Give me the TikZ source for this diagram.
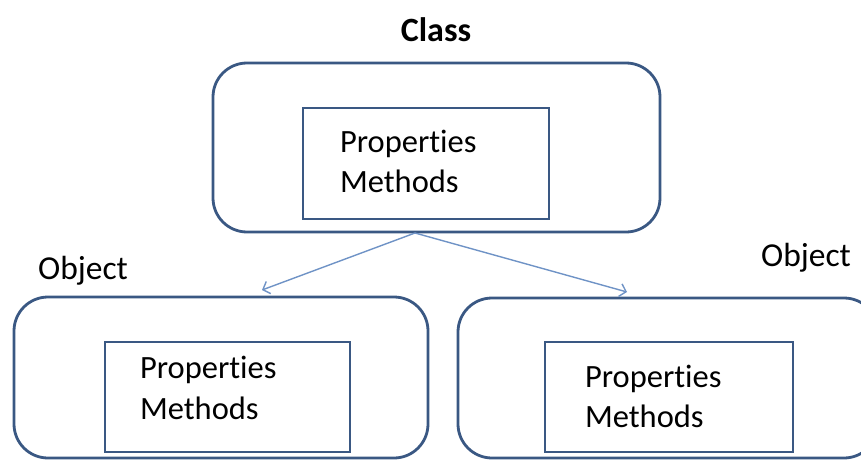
\documentclass[tikz,border=0pt]{standalone}
\usepackage{fontspec}
\setmainfont{Carlito}[Ligatures=NoCommon]
\usetikzlibrary{arrows.meta}
\definecolor{boxblue}{HTML}{3A5883}
\definecolor{arrowblue}{HTML}{6F93C6}
\tikzset{
  outerbox/.style={draw=boxblue, line width=2.8pt, rounded corners=34pt},
  innerbox/.style={draw=boxblue, line width=2.8pt, align=left, text height=20pt, font=\fontsize{32.5}{40}\selectfont},
  title/.style={font=\fontsize{33.5}{36}\selectfont},
  arr/.style={draw=arrowblue, line width=1.4pt, -{Straight Barb[length=6pt,width=13pt]}}
}
\begin{document}
\begin{tikzpicture}[x=1pt,y=-1pt]
  \useasboundingbox (0,0) rectangle (861,460);
  % class
  \node[title, font=\fontsize{34}{36}\selectfont\bfseries] (clsname) at (436,30) {Class};
  \node[outerbox, minimum width=447pt, minimum height=169pt] (cls) at (436.5,147.5) {};
  \node[innerbox, text width=172pt, inner xsep=37pt, text depth=43pt, minimum height=111pt] (clsin) at (426,163.5) {Properties\\Methods};
  % objects
  \node[title] (objLname) at (83,271) {Object};
  \node[title] (objRname) at (806,258) {Object};
  \node[outerbox, minimum width=414pt, minimum height=161pt] (objL) at (221,377.5) {};
  \node[outerbox, minimum width=420pt, minimum height=160pt] (objR) at (668,378) {};
  \node[innerbox, text width=175pt, inner xsep=35pt, text depth=58pt, minimum height=110pt] (objLin) at (227.5,397) {Properties\\[1pt]Methods};
  \node[innerbox, text width=168pt, inner xsep=40pt, text depth=40pt, minimum height=110pt] (objRin) at (669,397) {Properties\\Methods};
  % arrows
  \coordinate (fork) at (415,233);
  \coordinate (tipL) at (262,290);
  \coordinate (tipR) at (627,292);
  \draw[arr] (fork) -- (tipL);
  \draw[arr] (fork) -- (tipR);
\end{tikzpicture}
\end{document}
